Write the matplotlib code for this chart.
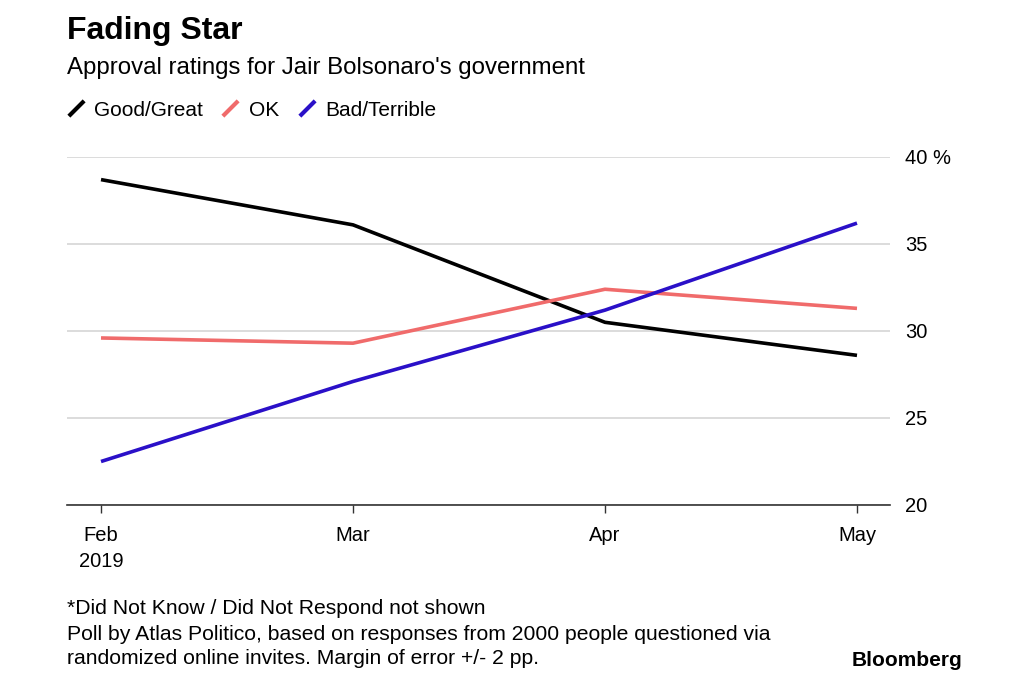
import matplotlib
matplotlib.use("Agg")
import matplotlib.pyplot as plt
from matplotlib.lines import Line2D

plt.rcParams['font.family'] = ['Liberation Sans', 'DejaVu Sans']

# data
months = ["Feb\n2019", "Mar", "Apr", "May"]
good_great = [38.7, 36.1, 30.5, 28.6]
ok = [29.6, 29.3, 32.4, 31.3]
bad_terrible = [22.5, 27.1, 31.2, 36.2]
series_names = ["Good/Great", "OK", "Bad/Terrible"]
series_colors = ["#000000", "#f06b6b", "#2a10c8"]
y_ticks = [20, 25, 30, 35, 40]

fig = plt.figure(figsize=(10.24, 6.82), dpi=100)
ax = fig.add_axes([67/1024, 1 - 505/682, 823/1024, 348/682])

x = range(len(months))
for vals, c in zip([good_great, ok, bad_terrible], series_colors):
    ax.plot(x, vals, color=c, lw=2.6, solid_capstyle='butt', zorder=3)

ax.set_xlim(-0.135, 3.131)
ax.set_ylim(20, 40)
ax.set_xticks(list(x))
ax.set_xticklabels(months, fontsize=14.5, linespacing=1.45)
ax.set_yticks(y_ticks)
ax.set_yticklabels([f"{v} %" if v == 40 else str(v) for v in y_ticks], fontsize=14.5)
ax.yaxis.tick_right()
ax.tick_params(axis='y', length=0, pad=11)
ax.tick_params(axis='x', length=6, width=1, color='#333333', pad=9)
for lbl in ax.get_xticklabels():
    lbl.set_verticalalignment('top')

ax.grid(axis='y', color='#d9d9d9', lw=1.3)
ax.set_axisbelow(True)
for s in ['top', 'left', 'right']:
    ax.spines[s].set_visible(False)
ax.spines['bottom'].set_color('#333333')
ax.spines['bottom'].set_linewidth(1.2)
ax.spines['bottom'].set_zorder(4)

# legend with slanted short strokes
handles = [Line2D([], [], color=c, marker=[(-1, -1), (1, 1)], linestyle='None',
                  markersize=11, markeredgewidth=3) for c in series_colors]
fig.legend(handles, series_names, loc='center left', bbox_to_anchor=(58/1024, 1 - 110/682),
           ncol=3, frameon=False, fontsize=15, handlelength=0.9, handletextpad=0.45,
           columnspacing=0.85, borderaxespad=0)

fig.text(67/1024, 1 - 31/682, "Fading Star", fontsize=23, fontweight='bold', va='center')
fig.text(67/1024, 1 - 68/682, "Approval ratings for Jair Bolsonaro's government", fontsize=17.3, va='center')

notes = ["*Did Not Know / Did Not Respond not shown",
         "Poll by Atlas Politico, based on responses from 2000 people questioned via",
         "randomized online invites. Margin of error +/- 2 pp."]
for i, t in enumerate(notes):
    fig.text(67/1024, 1 - (609 + 25*i)/682, t, fontsize=15.2, va='center')
fig.text(962/1024, 1 - 660/682, "Bloomberg", fontsize=15, fontweight='bold', ha='right', va='center')

fig.savefig("out.png", dpi=100, facecolor='white')
